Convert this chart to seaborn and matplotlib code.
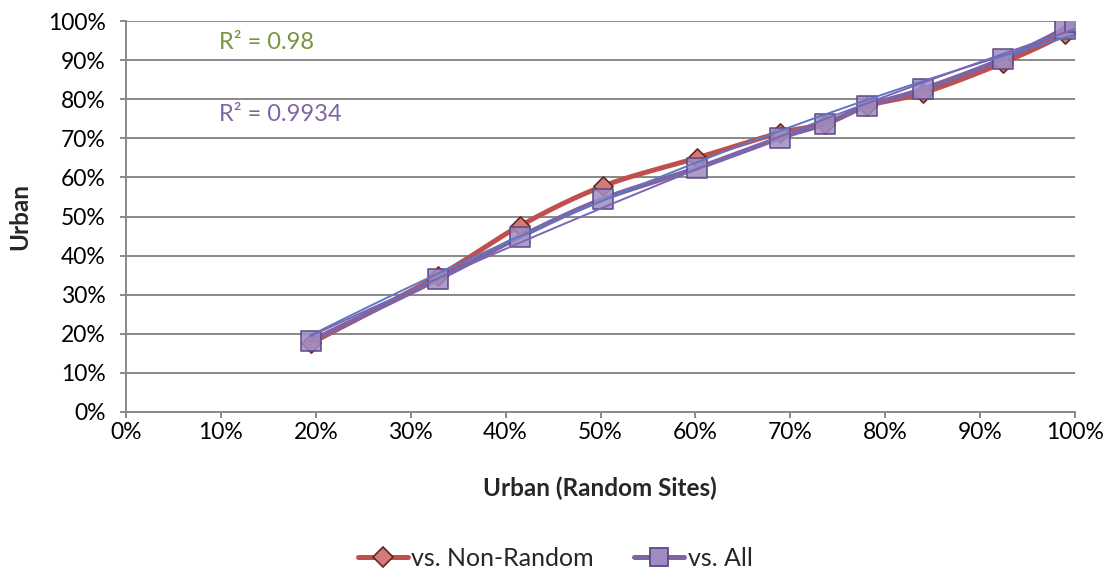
import numpy as np
import pandas as pd
import matplotlib
matplotlib.use("Agg")
import matplotlib.pyplot as plt
from matplotlib.lines import Line2D
from matplotlib.ticker import PercentFormatter, MultipleLocator
import seaborn as sns

# Share of urban sites (%)
urban_random = [19.5, 32.9, 41.5, 50.3, 60.2, 68.9, 73.7, 78.1, 84.0, 92.4, 98.9, 100.0]
urban_non_random = [17.6, 34.8, 47.6, 57.8, 65.0, 71.4, 73.7, 78.3, 81.6, 89.3, 96.7, 100.0]
urban_all = [18.2, 34.0, 44.8, 54.5, 62.4, 70.1, 73.7, 78.3, 82.6, 90.3, 98.0, 99.7]

series_names = ["vs. Non-Random", "vs. All"]
r2_labels = ["R\u00b2 = 0.98", "R\u00b2 = 0.9934"]

df = pd.DataFrame({
    "random": urban_random,
    "non_random": urban_non_random,
    "all": urban_all,
})

sns.set_theme(style="white")
plt.rcParams["font.family"] = ["Lato", "DejaVu Sans"]


def smooth_curve(x, y, n=30):
    """Catmull-Rom style smoothing through the points (spreadsheet 'smoothed line')."""
    x = np.asarray(x, float)
    y = np.asarray(y, float)
    xs, ys = [], []
    for i in range(len(x) - 1):
        p0 = np.array([x[max(i - 1, 0)], y[max(i - 1, 0)]])
        p1 = np.array([x[i], y[i]])
        p2 = np.array([x[i + 1], y[i + 1]])
        p3 = np.array([x[min(i + 2, len(x) - 1)], y[min(i + 2, len(x) - 1)]])
        c1 = p1 + (p2 - p0) / 6.0
        c2 = p2 - (p3 - p1) / 6.0
        t = np.linspace(0, 1, n)[:, None]
        pts = ((1 - t) ** 3) * p1 + 3 * ((1 - t) ** 2) * t * c1 + 3 * (1 - t) * t ** 2 * c2 + t ** 3 * p2
        xs.extend(pts[:, 0])
        ys.extend(pts[:, 1])
    return np.array(xs), np.array(ys)


red_line = "#C0504D"
red_face = "#D47A78"
red_edge = "#632523"
pur_line = "#8064A2"
pur_face = "#A08CC2"
pur_edge = "#5C4885"
trend_red = "#5B78C4"
trend_pur = "#7A66B4"
grid_col = "#898989"

fig = plt.figure(figsize=(11.10, 5.72), dpi=100)
ax = fig.add_axes([126 / 1110, 1 - 412 / 572, (1075 - 126) / 1110, (412 - 21) / 572])

# Series 1: smoothed line + diamond markers
sx, sy = smooth_curve(df["random"], df["non_random"])
ax.plot(sx, sy, color=red_line, lw=3.6, solid_capstyle="round", zorder=3)
sns.scatterplot(data=df, x="random", y="non_random", marker="D", s=95,
                color=red_face, edgecolor=red_edge, linewidth=1.2, ax=ax, zorder=4)

# Series 2: smoothed line + square markers
sx, sy = smooth_curve(df["random"], df["all"])
ax.plot(sx, sy, color=pur_line, lw=3.6, solid_capstyle="round", zorder=5)
sns.scatterplot(data=df, x="random", y="all", marker="s", s=210,
                color=pur_face, edgecolor=pur_edge, linewidth=1.3, alpha=0.85, ax=ax, zorder=6)

# Polynomial (order 2) trendlines
sns.regplot(data=df, x="random", y="non_random", scatter=False, ci=None, order=2, ax=ax,
            line_kws=dict(color=trend_red, lw=1.4, zorder=7))
sns.regplot(data=df, x="random", y="all", scatter=False, ci=None, order=2, ax=ax,
            line_kws=dict(color=trend_pur, lw=1.4, zorder=7))

ax.text(9.8, 94.6, r2_labels[0], color="#77933C", fontsize=17, va="center", ha="left")
ax.text(9.8, 76.0, r2_labels[1], color="#8064A2", fontsize=17, va="center", ha="left")

ax.set_xlim(0, 100)
ax.set_ylim(0, 100)
ax.xaxis.set_major_locator(MultipleLocator(10))
ax.yaxis.set_major_locator(MultipleLocator(10))
ax.xaxis.set_major_formatter(PercentFormatter(decimals=0))
ax.yaxis.set_major_formatter(PercentFormatter(decimals=0))

ax.grid(axis="y", color=grid_col, lw=1.4)
ax.grid(axis="x", visible=False)
ax.set_axisbelow(True)
for side in ["top", "right"]:
    ax.spines[side].set_visible(False)
for side in ["left", "bottom"]:
    ax.spines[side].set_color(grid_col)
    ax.spines[side].set_linewidth(1.4)
ax.tick_params(axis="both", which="major", direction="out", length=4.5, width=1.4,
               color=grid_col, labelsize=16.5, labelcolor="#000000",
               left=True, bottom=True)
ax.tick_params(axis="y", pad=10)
ax.tick_params(axis="x", pad=3)

ax.set_xlabel("Urban (Random Sites)", fontsize=17.5, fontweight="bold", va="center")
ax.set_ylabel("Urban", fontsize=17.5, fontweight="bold", va="center")
ax.xaxis.set_label_coords((600 - 126) / 949, (412 - 488) / 391)
ax.yaxis.set_label_coords((20 - 126) / 949, (412 - 216) / 391)

handles = [
    Line2D([], [], color=red_line, lw=3.6, marker="D", markersize=10,
           markerfacecolor=red_face, markeredgecolor=red_edge, markeredgewidth=1.2),
    Line2D([], [], color=pur_line, lw=3.6, marker="s", markersize=13,
           markerfacecolor=pur_face, markeredgecolor=pur_edge, markeredgewidth=1.3),
]
fig.legend(handles, series_names, loc="center", bbox_to_anchor=(0.5, 1 - 558 / 572),
           ncol=2, frameon=False, fontsize=18, handlelength=2.0, handletextpad=0.15,
           columnspacing=1.6)

fig.savefig("out.png", dpi=100)
